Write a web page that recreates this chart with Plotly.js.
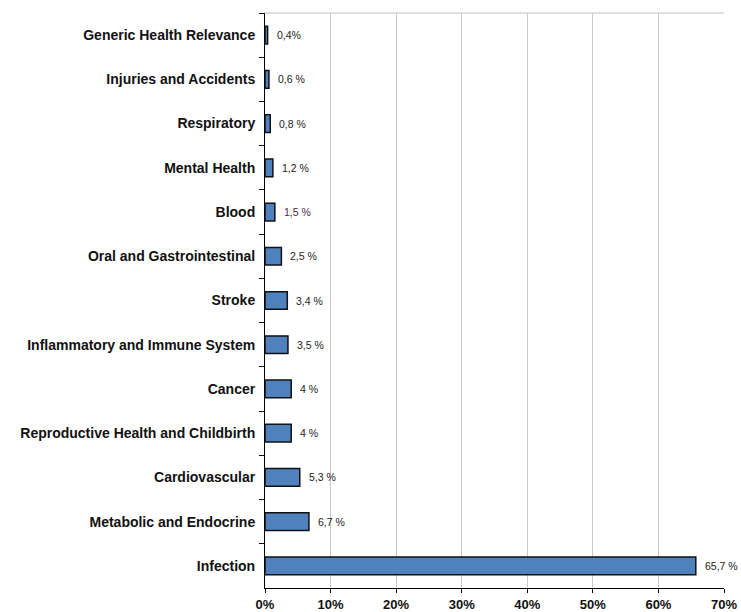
<!DOCTYPE html>
<html>
<head>
<meta charset="utf-8">
<script src="https://cdn.plot.ly/plotly-3.0.1.min.js"></script>
<style>html,body{margin:0;padding:0;background:#fff;}#chart{width:741px;height:612px;}</style>
</head>
<body>
<div id="chart"></div>
<script>
const categories = [
  "Generic Health Relevance",
  "Injuries and Accidents",
  "Respiratory",
  "Mental Health",
  "Blood",
  "Oral and Gastrointestinal",
  "Stroke",
  "Inflammatory and Immune System",
  "Cancer",
  "Reproductive Health and Childbirth",
  "Cardiovascular",
  "Metabolic and Endocrine",
  "Infection"
];
const values = [0.4, 0.6, 0.8, 1.2, 1.5, 2.5, 3.4, 3.5, 4, 4, 5.3, 6.7, 65.7];
const valueLabels = ["0,4%", "0,6 %", "0,8 %", "1,2 %", "1,5 %", "2,5 %", "3,4 %", "3,5 %", "4 %", "4 %", "5,3 %", "6,7 %", "65,7 %"];
const xTickVals = [0, 10, 20, 30, 40, 50, 60, 70];
const xTickText = ["0%", "10%", "20%", "30%", "40%", "50%", "60%", "70%"];

const FONT = "'Liberation Sans', Arial, sans-serif";

const trace = {
  type: "bar",
  orientation: "h",
  y: categories,
  x: values,
  width: 0.4,
  marker: { color: "#4f81bd", line: { color: "#111", width: 1.5 } },
  hoverinfo: "skip"
};

const annotations = values.map((v, i) => ({
  x: v, y: categories[i], xref: "x", yref: "y",
  text: valueLabels[i], showarrow: false,
  xanchor: "left", yanchor: "middle", xshift: 7,
  font: { family: FONT, size: 10.5, color: i === 4 ? "#4a2a4a" : "#222" }
}));

const layout = {
  width: 741, height: 612,
  margin: { l: 265, r: 17, t: 13, b: 24, pad: 0 },
  paper_bgcolor: "#fff", plot_bgcolor: "#fff",
  showlegend: false,
  bargap: 0.6,
  xaxis: {
    range: [0, 70], tickvals: xTickVals, ticktext: xTickText,
    showgrid: true, gridcolor: "#c8c8c8", gridwidth: 1,
    showline: true, linecolor: "#000", linewidth: 1,
    ticks: "outside", ticklen: 4, tickcolor: "#000",
    tickfont: { family: FONT, size: 13, color: "#111", weight: "bold" },
    ticklabelstandoff: 0,
    zeroline: false, fixedrange: true
  },
  yaxis: {
    autorange: "reversed", type: "category",
    showline: true, linecolor: "#000", linewidth: 1,
    ticks: "outside", ticklen: 5, tickcolor: "#000", tickson: "boundaries",
    tickfont: { family: FONT, size: 14, color: "#111", weight: "bold" },
    ticklabelstandoff: 6,
    showgrid: false, zeroline: false, fixedrange: true
  },
  shapes: [
    { type: "line", xref: "paper", yref: "paper", x0: 0, x1: 1, y0: 1, y1: 1, line: { color: "#d4d4d4", width: 1.5 } }
  ],
  annotations: annotations
};

Plotly.newPlot("chart", [trace], layout, { displayModeBar: false, staticPlot: true });
</script>
</body>
</html>
